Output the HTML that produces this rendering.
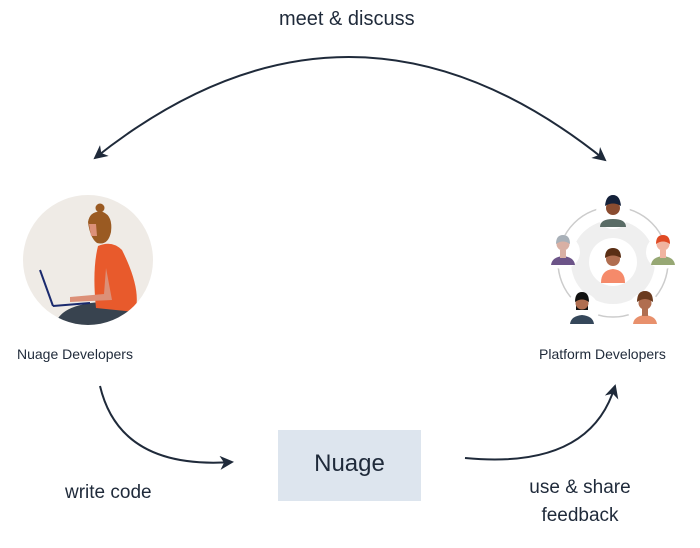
<!DOCTYPE html>
<html><head><style>
body{margin:0;width:700px;height:548px;background:#fff;overflow:hidden;font-family:"Liberation Sans",sans-serif;}
.t{position:absolute;color:#1f2a3a;}
</style></head><body>
<svg width="700" height="548" style="position:absolute;left:0;top:0">
<defs>
<marker id="b" markerWidth="14" markerHeight="14" refX="12" refY="7" orient="auto-start-reverse" markerUnits="userSpaceOnUse"><path d="M0,0 L14,7 L0,14 L4,7z" fill="#1f2a3a"/></marker></defs>
<path d="M95,158 Q350,-45 605,160" fill="none" stroke="#1f2a3a" stroke-width="2" marker-start="url(#b)" marker-end="url(#b)"/>
<path d="M100,386 Q120,470 232,462" fill="none" stroke="#1f2a3a" stroke-width="2" marker-end="url(#b)"/>
<path d="M465,458 Q590,470 615,386" fill="none" stroke="#1f2a3a" stroke-width="2" marker-end="url(#b)"/>
<!-- left illustration -->
<circle cx="88" cy="260" r="65" fill="#efebe6"/>
<clipPath id="c"><circle cx="88" cy="260" r="65"/></clipPath>
<g clip-path="url(#c)">
<path d="M55,325 Q60,305 100,302 Q125,303 135,318 L135,330 L55,330z" fill="#38434f"/>
<path d="M98,246 Q112,240 122,250 Q142,290 135,312 L96,308 Q92,270 98,246z" fill="#e85a2c"/>
<path d="M106,268 L112,300 L70,302 L70,297 L104,294z" fill="#dc9078"/>
</g>
<circle cx="100" cy="208" r="4.5" fill="#9a5a22"/>
<path d="M88,222 Q90,210 103,212 Q113,216 111,232 Q108,246 97,243 Q90,238 88,222z" fill="#9a5a22"/>
<path d="M89,224 L96,224 L97,236 L91,236z" fill="#dc9078"/>
<line x1="40" y1="270" x2="53" y2="306" stroke="#1a2a6e" stroke-width="2"/>
<line x1="53" y1="306" x2="90" y2="303" stroke="#1a2a6e" stroke-width="2"/>
<!-- right illustration -->
<circle cx="613" cy="262" r="55" fill="none" stroke="#ccc" stroke-width="1.5"/>
<circle cx="613" cy="262" r="42" fill="#efefef"/>
<circle cx="613" cy="262" r="24" fill="#fff"/>
<g>
<circle cx="613" cy="212" r="17" fill="#fff"/>
<path d="M600,227 Q600,219 613,219 Q626,219 626,227z" fill="#5a6c66"/><circle cx="613" cy="208" r="7" fill="#8a4c30"/><path d="M605,206 Q606,195 613,195 Q620,195 621,206 Q613,201 605,206z" fill="#14213a"/>
<circle cx="563" cy="252" r="17" fill="#fff"/>
<path d="M551,265 Q552,257 563,256 Q574,257 575,265z" fill="#6c5488"/><rect x="560" y="250" width="6" height="8" fill="#d8b0a4"/><circle cx="563" cy="244" r="6.5" fill="#d8b0a4"/><path d="M556,244 Q556,235 563,235 Q570,235 570,244 Q563,239 556,244z" fill="#a8b0b8"/>
<circle cx="663" cy="252" r="17" fill="#fff"/>
<path d="M651,265 Q652,257 663,256 Q674,257 675,265z" fill="#97a874"/><rect x="660" y="250" width="6" height="8" fill="#f0b4a0"/><circle cx="663" cy="244" r="6.5" fill="#f0b4a0"/><path d="M656,244 Q656,235 663,235 Q670,235 670,244 Q663,239 656,244z" fill="#e04a24"/>
<circle cx="582" cy="310" r="17" fill="#fff"/>
<path d="M570,324 Q571,316 582,315 Q593,316 594,324z" fill="#35475a"/><rect x="576" y="296" width="12" height="14" fill="#111"/><circle cx="582" cy="303" r="6.5" fill="#b06e50"/><path d="M575,302 Q575,292 582,292 Q589,292 589,302 Q582,297 575,302z" fill="#111"/>
<circle cx="645" cy="310" r="17" fill="#fff"/>
<path d="M633,324 Q634,316 645,315 Q656,316 657,324z" fill="#e8906c"/><rect x="642" y="308" width="6" height="8" fill="#b06e50"/><circle cx="645" cy="303" r="6.5" fill="#b06e50"/><path d="M637,302 Q637,291 645,291 Q653,291 653,302 Q645,296 637,302z" fill="#6a3a1e"/>
<path d="M601,283 Q601,270 613,269 Q625,270 625,283z" fill="#f58a6a"/><circle cx="613" cy="259" r="7" fill="#b06e50"/><path d="M605,258 Q605,248 613,248 Q621,248 621,258 Q613,253 605,258z" fill="#5a2e14"/>
</g>
<rect x="278" y="430" width="143" height="71" fill="#dde5ee"/>
</svg>
<div class="t" style="left:279px;top:8px;font-size:20px">meet &amp; discuss</div>
<div class="t" style="left:17px;top:346px;font-size:14px">Nuage Developers</div>
<div class="t" style="left:539px;top:346px;font-size:14px">Platform Developers</div>
<div class="t" style="left:278px;top:450px;width:143px;text-align:center;font-size:24px">Nuage</div>
<div class="t" style="left:65px;top:482px;font-size:19px">write code</div>
<div class="t" style="left:520px;top:474px;width:120px;text-align:center;font-size:19px;line-height:28px">use &amp; share<br>feedback</div>
</body></html>
